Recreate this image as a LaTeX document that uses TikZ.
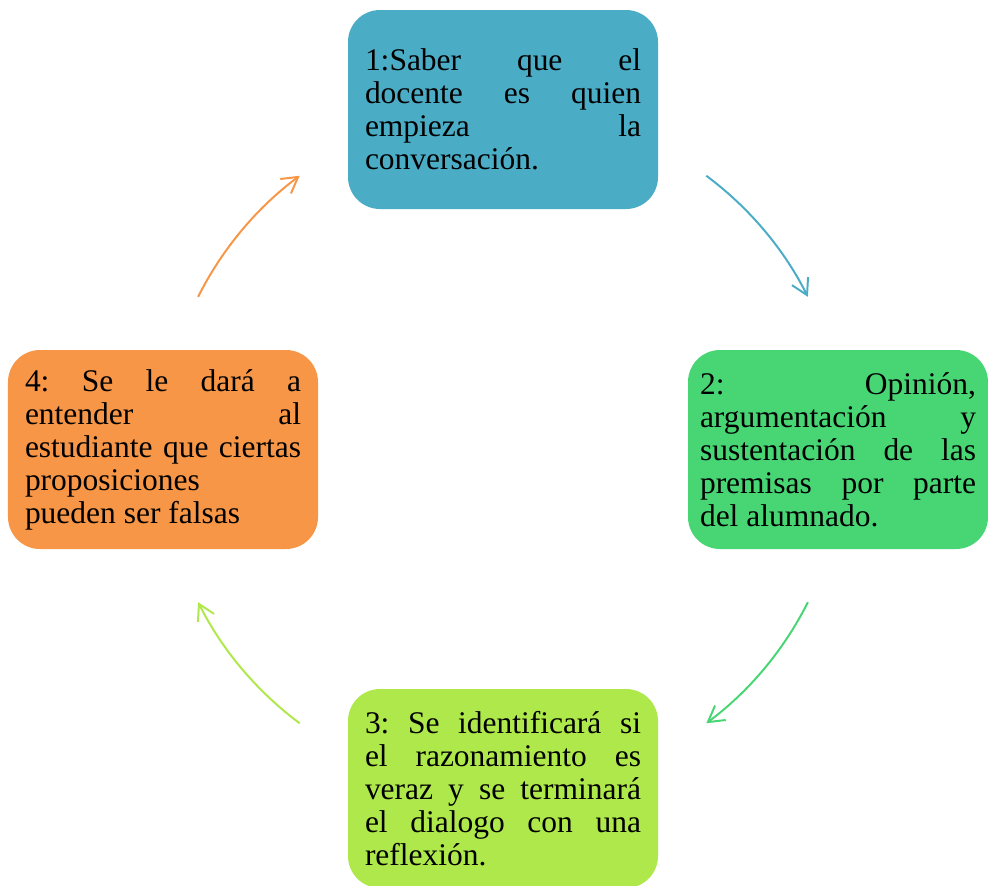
\documentclass[tikz,border=0pt]{standalone}
\usepackage{fontspec}
\setmainfont{Liberation Serif}
\usetikzlibrary{arrows.meta,
	calc,
	positioning}
\definecolor{pasoteal}{HTML}{4BACC6}
\definecolor{pasogreen}{HTML}{48D675}
\definecolor{pasolime}{HTML}{AEE84A}
\definecolor{pasoorange}{HTML}{F79646}
\tikzset{
	stepbox/.style={fill=#1, rounded corners=0.8cm, minimum width=7.75cm, minimum height=4.975cm,
		text width=6.9cm, align=justify, inner sep=0pt, font=\fontsize{22.4}{23.5}\selectfont},
	cyclearrow/.style={draw=#1, line width=1.4pt, -{Straight Barb[length=3.9mm,width=4.5mm]},
		bend left=13.4, looseness=0.86}
}

\begin{document}
\frenchspacing
\begin{tikzpicture}
	\useasboundingbox (0,0) rectangle (24.7,-22.125);
	\tolerance=10000 \hyphenpenalty=10000
	\coordinate (hub) at (12.575,-11.2375);
	% the four steps
	\node[stepbox=pasoteal] (paso1) at (12.575,-2.7375) {1:Saber que el\linebreak docente es quien\linebreak empieza la\linebreak conversación.};
	\node[stepbox=pasogreen, minimum width=7.5cm] (paso2) at (20.95,-11.2375) {2: Opinión,\linebreak argumentación y\linebreak sustentación de las\linebreak premisas por parte\linebreak del alumnado.};
	\node[stepbox=pasolime] (paso3) at (12.575,-19.7125) {3: Se identificará si\linebreak el razonamiento es\linebreak veraz y se terminará\linebreak el dialogo con una\linebreak reflexión.};
	\node[stepbox=pasoorange] (paso4) at (4.075,-11.2375) {4: Se le dará a\linebreak entender al\linebreak estudiante que ciertas\linebreak proposiciones\newline pueden ser falsas};
	% arrow ends on a circle round the hub
	\coordinate (c1s) at ($(hub)+(53.4:8.525)$);
	\coordinate (c1e) at ($(hub)+(26.6:8.525)$);
	\coordinate (c2s) at ($(hub)+(-26.6:8.525)$);
	\coordinate (c2e) at ($(hub)+(-53.4:8.525)$);
	\coordinate (c3s) at ($(hub)+(-126.6:8.525)$);
	\coordinate (c3e) at ($(hub)+(-153.4:8.525)$);
	\coordinate (c4s) at ($(hub)+(153.4:8.525)$);
	\coordinate (c4e) at ($(hub)+(126.6:8.525)$);
	\draw[cyclearrow=pasoteal] (c1s) to (c1e);
	\draw[cyclearrow=pasogreen] (c2s) to (c2e);
	\draw[cyclearrow=pasolime] (c3s) to (c3e);
	\draw[cyclearrow=pasoorange] (c4s) to (c4e);
\end{tikzpicture}
\end{document}
